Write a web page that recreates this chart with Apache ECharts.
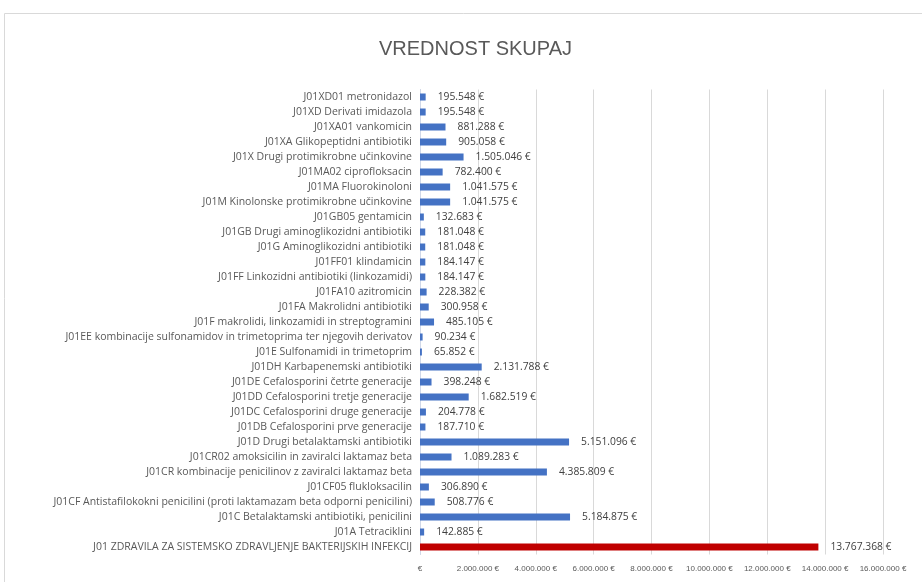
<!DOCTYPE html>
<html lang="sl">
<head>
<meta charset="UTF-8">
<title>Vrednost skupaj</title>
<style>
  html, body { margin: 0; padding: 0; background: #fff; }
  #chart { width: 922px; height: 582px; }
</style>
</head>
<body>
<div id="chart"></div>
<script src="https://cdn.jsdelivr.net/npm/echarts@6/dist/echarts.min.js"></script>
<script>
// categories, top to bottom as in the picture
var categories = [
    'J01XD01 metronidazol',
    'J01XD Derivati imidazola',
    'J01XA01 vankomicin',
    'J01XA Glikopeptidni antibiotiki',
    'J01X Drugi protimikrobne učinkovine',
    'J01MA02 ciprofloksacin',
    'J01MA Fluorokinoloni',
    'J01M Kinolonske protimikrobne učinkovine',
    'J01GB05 gentamicin',
    'J01GB Drugi aminoglikozidni antibiotiki',
    'J01G Aminoglikozidni antibiotiki',
    'J01FF01 klindamicin',
    'J01FF Linkozidni antibiotiki (linkozamidi)',
    'J01FA10 azitromicin',
    'J01FA Makrolidni antibiotiki',
    'J01F makrolidi, linkozamidi in streptogramini',
    'J01EE kombinacije sulfonamidov in trimetoprima ter njegovih derivatov',
    'J01E Sulfonamidi in trimetoprim',
    'J01DH Karbapenemski antibiotiki',
    'J01DE Cefalosporini četrte generacije',
    'J01DD Cefalosporini tretje generacije',
    'J01DC Cefalosporini druge generacije',
    'J01DB Cefalosporini prve generacije',
    'J01D Drugi betalaktamski antibiotiki',
    'J01CR02 amoksicilin in zaviralci laktamaz beta',
    'J01CR kombinacije penicilinov z zaviralci laktamaz beta',
    'J01CF05 flukloksacilin',
    'J01CF Antistafilokokni penicilini (proti laktamazam beta odporni penicilini)',
    'J01C Betalaktamski antibiotiki, penicilini',
    'J01A Tetraciklini',
    'J01 ZDRAVILA ZA SISTEMSKO ZDRAVLJENJE BAKTERIJSKIH INFEKCIJ'
];
var values = [
    195548, 195548, 881288, 905058, 1505046, 782400, 1041575, 1041575,
    132683, 181048, 181048, 184147, 184147, 228382, 300958, 485105,
    90234, 65852, 2131788, 398248, 1682519, 204778, 187710, 5151096,
    1089283, 4385809, 306890, 508776, 5184875, 142885, 13767368
];
var totalName = 'J01 ZDRAVILA ZA SISTEMSKO ZDRAVLJENJE BAKTERIJSKIH INFEKCIJ';

function euro(v) {
    if (v === 0) return '€';
    return String(Math.round(v)).replace(/\B(?=(\d{3})+(?!\d))/g, '.') + ' €';
}

var chart = echarts.init(document.getElementById('chart'));
chart.setOption({
    animation: false,
    textStyle: { fontFamily: 'Liberation Sans, Arial, sans-serif' },
    graphic: [{
        type: 'rect',
        shape: { x: 4.5, y: 13.5, width: 940, height: 600 },
        style: { fill: 'none', stroke: '#d9d9d9', lineWidth: 1 },
        silent: true
    }],
    title: {
        text: 'VREDNOST SKUPAJ',
        left: 374,
        top: 34,
        textStyle: {
            fontFamily: 'Liberation Sans, sans-serif',
            fontSize: 20,
            fontWeight: 'normal',
            color: '#595959'
        }
    },
    grid: { left: 420, right: 39, top: 89.5, bottom: 27.5, containLabel: false },
    xAxis: {
        type: 'value',
        min: 0,
        max: 16000000,
        interval: 2000000,
        axisLine: { show: false },
        axisTick: { show: false },
        splitLine: { lineStyle: { color: '#d9d9d9' } },
        axisLabel: { formatter: euro, fontSize: 8, color: '#595959', margin: 10 }
    },
    yAxis: {
        type: 'category',
        inverse: true,
        data: categories,
        axisLine: { show: true, lineStyle: { color: '#d0d8e8' } },
        axisTick: { show: false },
        axisLabel: {
            fontFamily: 'Open Sans, sans-serif',
            fontSize: 10.5,
            color: '#595959',
            margin: 8
        }
    },
    series: [{
        type: 'bar',
        data: values,
        barWidth: 7,
        itemStyle: {
            color: function (p) {
                return p.name === totalName ? '#c00000' : '#4472c4';
            }
        },
        label: {
            show: true,
            position: 'right',
            distance: 12,
            fontFamily: 'Open Sans, sans-serif',
            fontSize: 10.3,
            color: '#404040',
            formatter: function (p) { return euro(p.value); }
        }
    }]
});
</script>
</body>
</html>
